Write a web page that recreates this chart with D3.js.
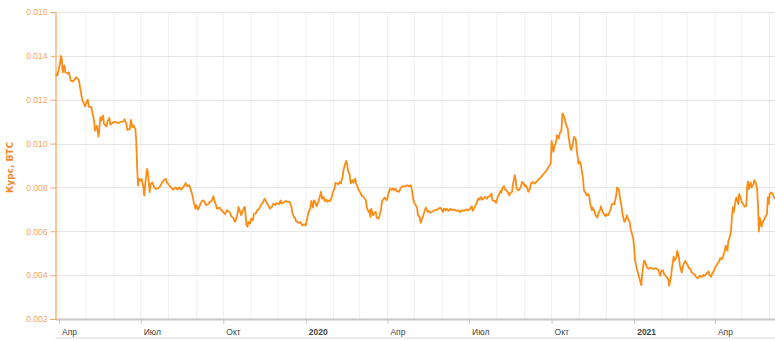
<!DOCTYPE html>
<html>
<head>
<meta charset="utf-8">
<script src="https://cdn.jsdelivr.net/npm/d3@7"></script>
<style>
    body { margin: 0; background: #fff; }
    svg { display: block; font-family: "DejaVu Sans", Verdana, sans-serif; }
</style>
</head>
<body>
<div class="chart"></div>
<script>
// day offsets from 1 Apr 2019 and the rate (BTC)
const startDate = Date.UTC(2019, 3, 1)
const days = [
    -4, -2, 1, 2, 3, 4, 6, 7, 10, 11, 13, 15, 17, 19, 22, 24, 26, 27, 29, 30,
    32, 33, 36, 37, 39, 40, 42, 44, 46, 47, 49, 50, 53, 54, 56, 57, 59, 62, 64, 66,
    68, 71, 73, 75, 76, 79, 80, 82, 83, 85, 86, 87, 88, 89, 91, 92, 94, 95, 96, 98,
    99, 101, 102, 104, 106, 108, 111, 113, 115, 117, 119, 120, 122, 124,
    125, 127, 130, 132, 134, 136, 138, 140, 141, 143, 145, 147, 149, 150, 152, 153, 155, 157, 159, 161,
    164, 166, 168, 170, 172, 173, 175, 176, 179, 181, 183, 185, 187, 190, 192, 194, 196, 197, 199, 200,
    202, 203, 205, 206, 207, 209, 210, 211, 213, 214, 216, 217, 219, 221, 223, 225, 228, 229, 231, 233,
    235, 237, 239, 241, 242, 245, 247, 248, 251, 253, 255, 257, 259, 260, 262,
    263, 264, 267, 269, 271, 273, 275, 277, 278, 280, 281, 283, 284, 286, 287, 289, 290, 292, 293, 295,
    296, 298, 299, 301, 302, 304, 305, 307, 308, 310, 311, 313, 314, 316, 317, 318, 320, 321, 322, 324,
    325, 327, 328, 330, 331, 333, 334, 336, 337, 339, 342, 343, 345, 346, 347, 348, 350, 351, 353, 354,
    356, 357, 359, 360, 362, 363, 365, 366, 367, 369, 370, 372, 373, 375, 376, 379, 381, 383, 385, 388,
    390, 392, 393, 395, 396,
    397, 399, 400, 402, 403, 405, 406, 408, 409, 411, 412, 414, 417, 419, 421, 423, 425, 428, 429, 431,
    432, 434, 436, 438, 440, 443, 445, 447, 449, 451, 454, 456, 458, 460, 461, 463, 466, 467, 468, 470,
    471, 473, 475, 477, 478, 480, 482, 483, 486, 487, 489, 490, 492, 493, 494, 496, 497, 499, 501, 502,
    503, 505, 506, 508, 509, 510, 512, 513, 515, 516, 518, 519, 520, 522, 523, 525, 526, 528, 530,
    532, 535, 537, 539, 541, 543, 546, 548, 549, 551, 552, 554, 555, 557, 558, 560, 561, 562, 564, 565,
    567, 568, 570, 571, 573, 574, 576, 577, 579, 581, 582, 584, 585, 587, 588, 590, 591, 592, 594, 595,
    597, 598, 600, 601, 603, 604, 606, 607, 609, 610, 612, 613, 615, 616, 618, 619, 621, 622, 624, 625,
    627, 628, 630, 631, 633, 634, 636, 637, 638, 640, 641, 642, 644, 645, 647, 648, 649, 650, 652, 653,
    655, 657, 659, 662, 664,
    665, 668, 670, 671, 673, 674, 676, 679, 680, 682, 683, 685, 686, 688, 689, 691, 692, 694, 695, 696,
    698, 699, 701, 702, 704, 705, 708, 710, 712, 714, 717, 718, 720, 722, 724, 725, 727, 728, 730, 731,
    733, 734, 736, 737, 739, 740, 742, 743, 745, 746, 748, 749, 750, 751, 752, 754, 755, 757, 758, 760,
    761, 763, 764, 766, 767, 768, 769, 771, 772, 774, 775, 777, 778, 779, 780, 781, 783, 784, 786, 787,
    789, 790, 791, 792, 794, 795, 797, 798
]
const rates = [
    0.01318, 0.0131, 0.01364, 0.0140, 0.01386, 0.01325, 0.01356, 0.01325, 0.01318, 0.01325,
    0.01287, 0.01284, 0.0129, 0.01303, 0.0129, 0.01242, 0.01196, 0.01189, 0.01169, 0.01184,
    0.012, 0.01169, 0.01166, 0.01143, 0.01105, 0.01059, 0.01082, 0.01032, 0.0112, 0.01105,
    0.01128, 0.0109, 0.01078, 0.01102, 0.01117, 0.01087, 0.01093, 0.01099, 0.01096, 0.01093,
    0.01099, 0.01099, 0.01111, 0.0109, 0.01062, 0.01067, 0.01108, 0.01074, 0.01082, 0.01067,
    0.01014, 0.00892, 0.00808, 0.00839, 0.00831, 0.00839, 0.008, 0.00763, 0.00815, 0.00884,
    0.00869, 0.00778, 0.00815, 0.00823, 0.008, 0.00793, 0.00797, 0.00808, 0.00823, 0.00834,
    0.00839, 0.00823, 0.00815, 0.00803,
    0.0080, 0.0079, 0.0080, 0.0079, 0.0080, 0.0079, 0.0080, 0.0081, 0.0082, 0.00805,
    0.0081, 0.00787, 0.00757, 0.00734, 0.00703, 0.00719, 0.00699, 0.00719, 0.00738, 0.00741,
    0.00719, 0.00723, 0.00734, 0.00738, 0.0076, 0.00741, 0.00719, 0.00703, 0.00708, 0.00696,
    0.00688, 0.00678, 0.00696, 0.00688, 0.00668, 0.00662, 0.00643, 0.0065, 0.00681, 0.00711,
    0.00688, 0.00673, 0.00696, 0.00708, 0.00711, 0.00627, 0.0062, 0.00643, 0.00635, 0.00658,
    0.0065, 0.00678, 0.00681, 0.00696, 0.00703, 0.00719, 0.00738, 0.00749, 0.00734, 0.00719,
    0.00703, 0.00711, 0.00726, 0.00719, 0.00729, 0.00723, 0.00741, 0.00726, 0.00734, 0.00738,
    0.00734, 0.00734, 0.00711, 0.00684, 0.00662,
    0.00662, 0.00647, 0.00638, 0.00643, 0.00627, 0.00632, 0.00627, 0.00668, 0.00688, 0.00703,
    0.00738, 0.00708, 0.00741, 0.00729, 0.00714, 0.00734, 0.00749, 0.0078, 0.00749, 0.00757,
    0.00738, 0.00744, 0.00734, 0.00741, 0.00738, 0.00757, 0.00776, 0.00795, 0.00821, 0.00818,
    0.00814, 0.00825, 0.00818, 0.00848, 0.00878, 0.00894, 0.00921, 0.00909, 0.00878, 0.00856,
    0.00818, 0.00833, 0.00821, 0.0084, 0.00818, 0.008, 0.00787, 0.00776, 0.00764, 0.0076,
    0.00741, 0.00708, 0.00688, 0.00696, 0.00665, 0.00703, 0.00673, 0.00681, 0.00688, 0.00662,
    0.00658, 0.00668, 0.00703, 0.00738, 0.00749, 0.00754, 0.00741, 0.00749, 0.00772, 0.00795,
    0.0079, 0.00795, 0.00787, 0.00795, 0.00784, 0.0078, 0.008, 0.00806, 0.00803, 0.0081,
    0.00806, 0.0081, 0.00795, 0.00741, 0.00729,
    0.00723, 0.00708, 0.00673, 0.00665, 0.00638, 0.00662, 0.00673, 0.00699, 0.00708, 0.00688,
    0.00693, 0.00684, 0.00693, 0.00696, 0.00699, 0.00703, 0.00708, 0.00688, 0.00703, 0.00696,
    0.00703, 0.00693, 0.00703, 0.00696, 0.00699, 0.00693, 0.00696, 0.00688, 0.00696, 0.00693,
    0.00699, 0.00696, 0.00702, 0.00714, 0.00693, 0.00708, 0.00734, 0.00749, 0.00744, 0.00757,
    0.00744, 0.00749, 0.00757, 0.00749, 0.00757, 0.0076, 0.00772, 0.00741, 0.00738, 0.00729,
    0.00757, 0.00764, 0.00784, 0.00776, 0.00795, 0.00806, 0.0079, 0.00787, 0.00769, 0.00764,
    0.00776, 0.0078, 0.00818, 0.00856, 0.00833, 0.00795, 0.00787, 0.0079, 0.00806, 0.00825,
    0.00818, 0.00806, 0.0081, 0.00795, 0.0078, 0.00795, 0.00818, 0.00825, 0.00818,
    0.00825, 0.0084, 0.00845, 0.00856, 0.00866, 0.00875, 0.00897, 0.00909, 0.01012, 0.00962,
    0.00985, 0.01008, 0.01038, 0.01023, 0.01046, 0.01061, 0.01137, 0.01134, 0.01106, 0.01088,
    0.01068, 0.0103, 0.00977, 0.0097, 0.01008, 0.0103, 0.01018, 0.0097, 0.00909, 0.00916,
    0.00894, 0.0084, 0.00787, 0.00775, 0.00764, 0.00769, 0.00757, 0.00726, 0.00696, 0.00708,
    0.00688, 0.00673, 0.00662, 0.00681, 0.00696, 0.00714, 0.00688, 0.00681, 0.00668, 0.00678,
    0.00673, 0.00681, 0.00703, 0.00723, 0.00726, 0.00723, 0.00764, 0.008, 0.0079, 0.00757,
    0.00711, 0.00681, 0.00643, 0.00647, 0.00673, 0.00658, 0.00643, 0.00612, 0.00597, 0.00567,
    0.00528, 0.00468, 0.00429, 0.00414, 0.00384, 0.00369, 0.00354, 0.00407, 0.00465, 0.00465,
    0.00437, 0.00429, 0.00434, 0.00429, 0.00429,
    0.00432, 0.00423, 0.00397, 0.00417, 0.00423, 0.00408, 0.00397, 0.00382, 0.00351, 0.00389,
    0.00427, 0.00484, 0.00465, 0.0048, 0.00511, 0.0048, 0.00443, 0.00412, 0.00435, 0.0045,
    0.00465, 0.00458, 0.00443, 0.00432, 0.00427, 0.00412, 0.00405, 0.00392, 0.00386, 0.00397,
    0.00392, 0.00401, 0.00397, 0.00408, 0.00417, 0.00401, 0.00392, 0.00408, 0.0042, 0.00432,
    0.00447, 0.00453, 0.00465, 0.00478, 0.00473, 0.00484, 0.00511, 0.00534, 0.00511, 0.00557,
    0.00579, 0.00602, 0.00663, 0.00709, 0.00686, 0.00739, 0.00754, 0.00724, 0.0077, 0.00747,
    0.00732, 0.00721, 0.00712, 0.00716, 0.00808, 0.00827, 0.00792, 0.00823, 0.008, 0.00815,
    0.00833, 0.00815, 0.00792, 0.00724, 0.00599, 0.00663, 0.0062, 0.0064, 0.00655, 0.00663,
    0.00678, 0.00754, 0.00724, 0.0077, 0.00777, 0.00773, 0.00754, 0.00747
]
const yTicks = [0.002, 0.004, 0.006, 0.008, 0.010, 0.012, 0.014, 0.016]
const monthNames = ["Янв", "Фев", "Мар", "Апр", "Май", "Июн", "Июл", "Авг", "Сен", "Окт", "Ноя", "Дек"]
const yTitle = "Курс, BTC"

create_rate_chart()

function create_rate_chart() {

    var svgWidth = 775;
    var svgHeight = 340;
    const plot = { left: 55.5, right: 775, top: 12, bottom: 319 }

    var data = days.map(function (d, i) {
        return { date: d3.utcDay.offset(new Date(startDate), d), rate: rates[i] };
    });

    var svg = d3.select('div.chart')
        .append('svg')
        .attr('width', svgWidth)
        .attr('height', svgHeight);

    var x = d3.scaleUtc()
        .domain(d3.extent(data, function (d) { return d.date; }))
        .range([plot.left, plot.right]);

    var y = d3.scaleLinear()
        .domain([yTicks[0], yTicks[yTicks.length - 1]])
        .range([plot.bottom, plot.top]);

    // grid: monthly verticals, one line per y tick
    var months = d3.utcMonth.range(new Date(startDate), x.domain()[1]);
    svg.append('g').selectAll('line')
        .data(months)
        .enter()
        .append('line')
        .attr('x1', function (d) { return x(d); })
        .attr('x2', function (d) { return x(d); })
        .attr('y1', plot.top)
        .attr('y2', plot.bottom)
        .attr('stroke', '#f0f0f0')
        .attr('stroke-width', 1);

    svg.append('g').selectAll('line')
        .data(yTicks.slice(1))
        .enter()
        .append('line')
        .attr('x1', plot.left)
        .attr('x2', plot.right)
        .attr('y1', function (d) { return Math.round(y(d)) + 0.5; })
        .attr('y2', function (d) { return Math.round(y(d)) + 0.5; })
        .attr('stroke', '#e6e6e6')
        .attr('stroke-width', 1);

    // x axis
    svg.append('line')
        .attr('x1', plot.left).attr('x2', plot.right)
        .attr('y1', plot.bottom + 0.5).attr('y2', plot.bottom + 0.5)
        .attr('stroke', '#c8c8c8')
        .attr('stroke-width', 2);

    svg.append('line')
        .attr('x1', plot.left).attr('x2', plot.right)
        .attr('y1', 338).attr('y2', 338)
        .attr('stroke', '#ececec')
        .attr('stroke-width', 2);

    var xAxis = d3.axisBottom(x)
        .ticks(d3.utcMonth.every(3))
        .tickSize(4)
        .tickPadding(5)
        .tickFormat(function (d) {
            return d.getUTCMonth() === 0 ? d.getUTCFullYear() : monthNames[d.getUTCMonth()];
        });

    var gx = svg.append('g')
        .attr('transform', 'translate(0,' + (plot.bottom + 1) + ')')
        .call(xAxis);
    gx.select('.domain').remove();
    gx.selectAll('.tick line').attr('stroke', '#c8c8c8');
    gx.selectAll('.tick text')
        .attr('text-anchor', 'start')
        .attr('dx', 2.5)
        .attr('fill', '#444')
        .style('font-size', '8.5px')
        .style('font-weight', function (d) { return d.getUTCMonth() === 0 ? 'bold' : 'normal'; });

    // y axis
    var yAxis = d3.axisLeft(y)
        .tickValues(yTicks)
        .tickSize(5)
        .tickPadding(3)
        .tickFormat(d3.format('.3f'));

    var gy = svg.append('g')
        .attr('transform', 'translate(' + plot.left + ',0)')
        .call(yAxis);
    gy.select('.domain').attr('stroke', '#f5a55a').attr('stroke-width', 1.2);
    gy.selectAll('.tick line').attr('stroke', '#f5a55a');
    gy.selectAll('.tick text')
        .attr('fill', '#f7a55a')
        .style('font-size', '8.5px');

    svg.append('text')
        .attr('transform', 'translate(13,' + ((plot.top + plot.bottom) / 2 + 2) + ') rotate(-90)')
        .attr('text-anchor', 'middle')
        .attr('fill', '#f08a24')
        .style('font-size', '9px')
        .style('font-weight', 'bold')
        .text(yTitle);

    // the series
    var line = d3.line()
        .x(function (d) { return x(d.date); })
        .y(function (d) { return y(d.rate); });

    svg.append('path')
        .datum(data)
        .attr('fill', 'none')
        .attr('stroke', '#fd8c14')
        .attr('stroke-width', 1.8)
        .attr('stroke-linejoin', 'round')
        .attr('d', line);
}
</script>
</body>
</html>
